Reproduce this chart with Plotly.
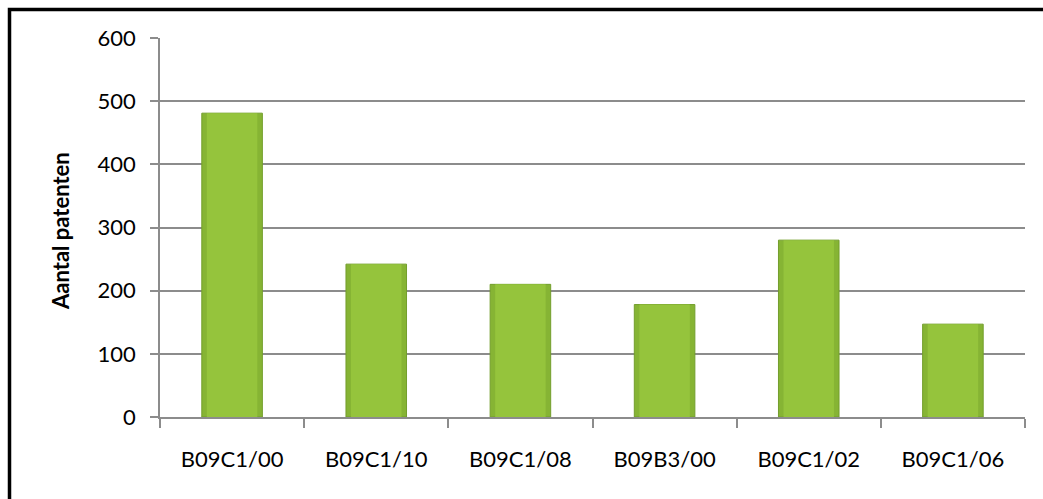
import plotly.graph_objects as go

categories = ["B09C1/00", "B09C1/10", "B09C1/08", "B09B3/00", "B09C1/02", "B09C1/06"]
values = [481, 242, 210, 178, 280, 147]
y_ticks = [0, 100, 200, 300, 400, 500, 600]
y_title = "Aantal patenten"

W, H = 1043, 499
L, R, T, B = 160, 18, 38, 82
pw, ph = W - L - R, H - T - B

fig = go.Figure()
fig.add_trace(go.Bar(
    x=categories, y=values,
    marker=dict(color="#86B434", line=dict(color="#739E2C", width=1)),
    width=0.42, hoverinfo="skip",
))
fig.add_trace(go.Bar(
    x=categories, y=values,
    marker=dict(color="#95C43C", line=dict(width=0)),
    width=0.35,
))

font = "Lato"
fig.update_layout(
    width=W, height=H,
    margin=dict(l=L, r=R, t=T, b=B),
    paper_bgcolor="white", plot_bgcolor="white",
    showlegend=False, barmode="overlay",
    font=dict(family=font, size=22, color="#000"),
    xaxis=dict(
        showline=True, linecolor="#8c8c8c", linewidth=1.5,
        ticks="outside", tickson="boundaries", ticklen=9, tickcolor="#8c8c8c", tickwidth=1.5,
        ticklabelstandoff=22, showgrid=False,
        tickfont=dict(family=font, size=22),
    ),
    yaxis=dict(
        range=[0, 600], tickvals=y_ticks,
        showline=True, linecolor="#8c8c8c", linewidth=1.5,
        ticks="outside", ticklen=8, tickcolor="#8c8c8c", tickwidth=1.5,
        ticklabelstandoff=10,
        showgrid=True, gridcolor="#8c8c8c", gridwidth=1.5, zeroline=False,
        tickfont=dict(family=font, size=22),
    ),
    annotations=[dict(
        text="<b>" + y_title + "</b>", textangle=-90,
        xref="paper", yref="paper",
        x=(60 - L) / pw, y=(H - B - 231) / ph, xanchor="center", yanchor="middle",
        showarrow=False, font=dict(family=font, size=22, color="#000"),
    )],
    shapes=[dict(
        type="rect", xref="paper", yref="paper",
        x0=(9.5 - L) / pw, x1=(W + 20 - L) / pw,
        y0=-(B + 20) / ph, y1=(H - B - 9.5) / ph,
        line=dict(color="black", width=3.5), fillcolor="rgba(0,0,0,0)",
    )],
)

fig.write_html("out.html")
